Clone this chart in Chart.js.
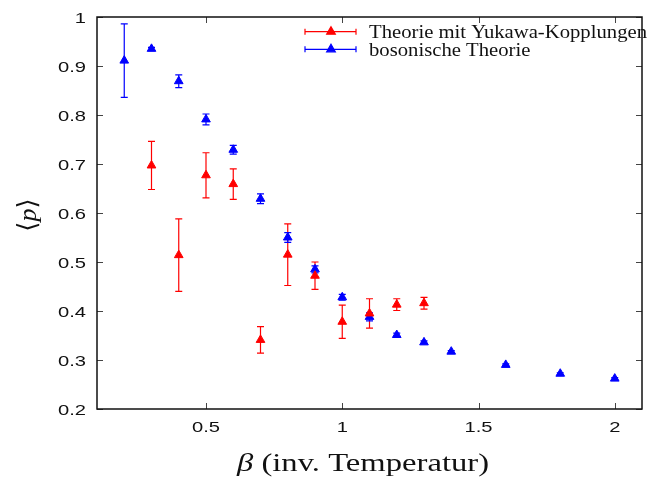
<!DOCTYPE html>
<html>
<head>
<meta charset="utf-8">
<script src="https://cdn.jsdelivr.net/npm/chart.js@4"></script>
<style>
html,body{margin:0;padding:0;background:#fff;}
#wrap{width:648px;height:478px;}
</style>
</head>
<body>
<div id="wrap"><canvas id="chart" width="648" height="478"></canvas></div>
<script>
// Theorie mit Yukawa-Kopplungen
var yukBeta = [0.3, 0.4, 0.5, 0.6, 0.7, 0.8, 0.9, 1.0, 1.1, 1.2, 1.3];
var yukP    = [0.697, 0.514, 0.677, 0.659, 0.341, 0.515, 0.472, 0.378, 0.395, 0.413, 0.416];
var yukErr  = [0.049, 0.074, 0.046, 0.031, 0.027, 0.063, 0.028, 0.034, 0.030, 0.012, 0.012];

// bosonische Theorie
var bosBeta = [0.2, 0.3, 0.4, 0.5, 0.6, 0.7, 0.8, 0.9, 1.0, 1.1, 1.2, 1.3, 1.4, 1.6, 1.8, 2.0];
var bosP    = [0.911, 0.935, 0.869, 0.791, 0.729, 0.629, 0.550, 0.485, 0.428, 0.388, 0.351, 0.336, 0.317, 0.290, 0.272, 0.262];
var bosErr  = [0.075, 0.003, 0.013, 0.011, 0.009, 0.010, 0.010, 0.007, 0.006, 0.008, 0.004, 0.003, 0.002, 0.002, 0.002, 0.002];

var xTicks = [0.5, 1, 1.5, 2];
var xTickLabels = ['0.5', '1', '1.5', '2'];
var yTicks = [0.2, 0.3, 0.4, 0.5, 0.6, 0.7, 0.8, 0.9, 1];
var yTickLabels = ['0.2', '0.3', '0.4', '0.5', '0.6', '0.7', '0.8', '0.9', '1'];

var seriesNames = ['Theorie mit Yukawa-Kopplungen', 'bosonische Theorie'];
var seriesColors = ['#ff0000', '#0000ff'];

function points(xs, ys){
    return xs.map(function(v, i){ return {x: v, y: ys[i]}; });
}

// text drawn with a horizontal stretch (the original figure is stretched sideways)
function stretched(ctx, str, x, y, sx, align){
    ctx.save();
    ctx.translate(x, y);
    ctx.scale(sx, 1);
    ctx.textAlign = align;
    ctx.fillText(str, 0, 0);
    ctx.restore();
}

var decor = {
    id: 'decor',
    beforeDatasetsDraw: function(chart){
        var ctx = chart.ctx, xs = chart.scales.x, ys = chart.scales.y;
        chart.data.datasets.forEach(function(ds){
            ctx.save();
            ctx.strokeStyle = ds.borderColor;
            ctx.lineWidth = 1.2;
            ds.data.forEach(function(p, i){
                var e = ds.errors[i];
                var px = xs.getPixelForValue(p.x);
                var t = ys.getPixelForValue(p.y + e), b = ys.getPixelForValue(p.y - e);
                ctx.beginPath();
                ctx.moveTo(px, t); ctx.lineTo(px, b);
                ctx.moveTo(px - 3.5, t); ctx.lineTo(px + 3.5, t);
                ctx.moveTo(px - 3.5, b); ctx.lineTo(px + 3.5, b);
                ctx.stroke();
            });
            ctx.restore();
        });
    },
    afterDraw: function(chart){
        var ctx = chart.ctx, a = chart.chartArea, xs = chart.scales.x, ys = chart.scales.y;
        ctx.save();
        // inward ticks
        ctx.strokeStyle = '#444';
        ctx.lineWidth = 1;
        ctx.beginPath();
        xTicks.forEach(function(v){
            var px = Math.round(xs.getPixelForValue(v)) + 0.5;
            ctx.moveTo(px, a.bottom); ctx.lineTo(px, a.bottom - 6);
            ctx.moveTo(px, a.top); ctx.lineTo(px, a.top + 6);
        });
        yTicks.forEach(function(v){
            var py = Math.round(ys.getPixelForValue(v)) + 0.5;
            ctx.moveTo(a.left, py); ctx.lineTo(a.left + 6, py);
            ctx.moveTo(a.right, py); ctx.lineTo(a.right - 6, py);
        });
        ctx.stroke();
        // frame
        ctx.strokeStyle = '#111';
        ctx.lineWidth = 1.5;
        ctx.strokeRect(a.left, a.top, a.right - a.left, a.bottom - a.top);

        // tick labels
        ctx.fillStyle = '#111';
        ctx.font = '15.5px "Liberation Sans", Arial, sans-serif';
        xTicks.forEach(function(v, i){
            stretched(ctx, xTickLabels[i], xs.getPixelForValue(v), a.bottom + 23, 1.3, 'center');
        });
        yTicks.forEach(function(v, i){
            stretched(ctx, yTickLabels[i], a.left - 11, ys.getPixelForValue(v) + 5.5, 1.3, 'right');
        });

        // x title: beta (inv. Temperatur)
        var fItal = 'italic 26px "Liberation Serif", "DejaVu Serif", serif';
        var fReg = '26px "Liberation Serif", "DejaVu Serif", serif';
        ctx.font = fItal; var w1 = ctx.measureText('\u03b2').width;
        ctx.font = fReg; var w2 = ctx.measureText(' (inv. Temperatur)').width;
        var sx = 252 / (w1 + w2);
        ctx.save();
        ctx.translate(237, 471);
        ctx.scale(sx, 1);
        ctx.textAlign = 'left';
        ctx.font = fItal; ctx.fillText('\u03b2', 0, 0);
        ctx.font = fReg; ctx.fillText(' (inv. Temperatur)', w1, 0);
        ctx.restore();

        // y title: <p>
        var fB = '26px "DejaVu Serif", "Liberation Serif", serif';
        var fP = 'italic 26px "Liberation Serif", "DejaVu Serif", serif';
        ctx.font = fB; var bw = ctx.measureText('\u27e8').width;
        ctx.font = fP; var pw = ctx.measureText('p').width;
        var tot = 2 * bw + pw;
        ctx.save();
        ctx.translate(36, (a.top + a.bottom) / 2 + 2);
        ctx.rotate(-Math.PI / 2);
        ctx.textAlign = 'left';
        ctx.font = fB; ctx.fillText('\u27e8', -tot / 2, 0);
        ctx.font = fP; ctx.fillText('p', -tot / 2 + bw, 0);
        ctx.font = fB; ctx.fillText('\u27e9', -tot / 2 + bw + pw, 0);
        ctx.restore();

        // legend
        ctx.font = '18px "Liberation Serif", "DejaVu Serif", serif';
        var lsx = 278 / ctx.measureText(seriesNames[0]).width;
        var rows = [31.7, 49.3];
        seriesNames.forEach(function(name, i){
            var y = rows[i];
            ctx.strokeStyle = seriesColors[i];
            ctx.fillStyle = seriesColors[i];
            ctx.lineWidth = 1.2;
            ctx.beginPath();
            ctx.moveTo(305, y); ctx.lineTo(356, y);
            ctx.moveTo(305, y - 3); ctx.lineTo(305, y + 3);
            ctx.moveTo(356, y - 3); ctx.lineTo(356, y + 3);
            ctx.stroke();
            Chart.helpers.drawPoint(ctx, {pointStyle: 'triangle', radius: 5, borderWidth: 1, rotation: 0}, 331, y);
            ctx.fillStyle = '#111';
            stretched(ctx, name, 369, y + 6.5, lsx, 'left');
        });
        ctx.restore();
    }
};

var datasets = [
    {label: seriesNames[0], data: points(yukBeta, yukP), errors: yukErr},
    {label: seriesNames[1], data: points(bosBeta, bosP), errors: bosErr}
].map(function(ds, i){
    ds.pointStyle = 'triangle';
    ds.pointRadius = 5;
    ds.pointBorderWidth = 1;
    ds.backgroundColor = seriesColors[i];
    ds.borderColor = seriesColors[i];
    return ds;
});

var chart = new Chart(document.getElementById('chart'), {
    type: 'scatter',
    data: {datasets: datasets},
    options: {
        responsive: false,
        animation: false,
        layout: {padding: {left: 0, right: 6, top: 17, bottom: 0}},
        plugins: {legend: {display: false}, tooltip: {enabled: false}},
        scales: {
            x: {
                type: 'linear', min: 0.1, max: 2.1,
                grid: {display: false}, border: {display: false}, ticks: {display: false},
                afterBuildTicks: function(s){ s.ticks = xTicks.map(function(v){ return {value: v}; }); },
                afterFit: function(s){ s.height = 69; }
            },
            y: {
                type: 'linear', min: 0.2, max: 1,
                grid: {display: false}, border: {display: false}, ticks: {display: false},
                afterBuildTicks: function(s){ s.ticks = yTicks.map(function(v){ return {value: v}; }); },
                afterFit: function(s){ s.width = 97; }
            }
        }
    },
    plugins: [decor]
});
</script>
</body>
</html>
